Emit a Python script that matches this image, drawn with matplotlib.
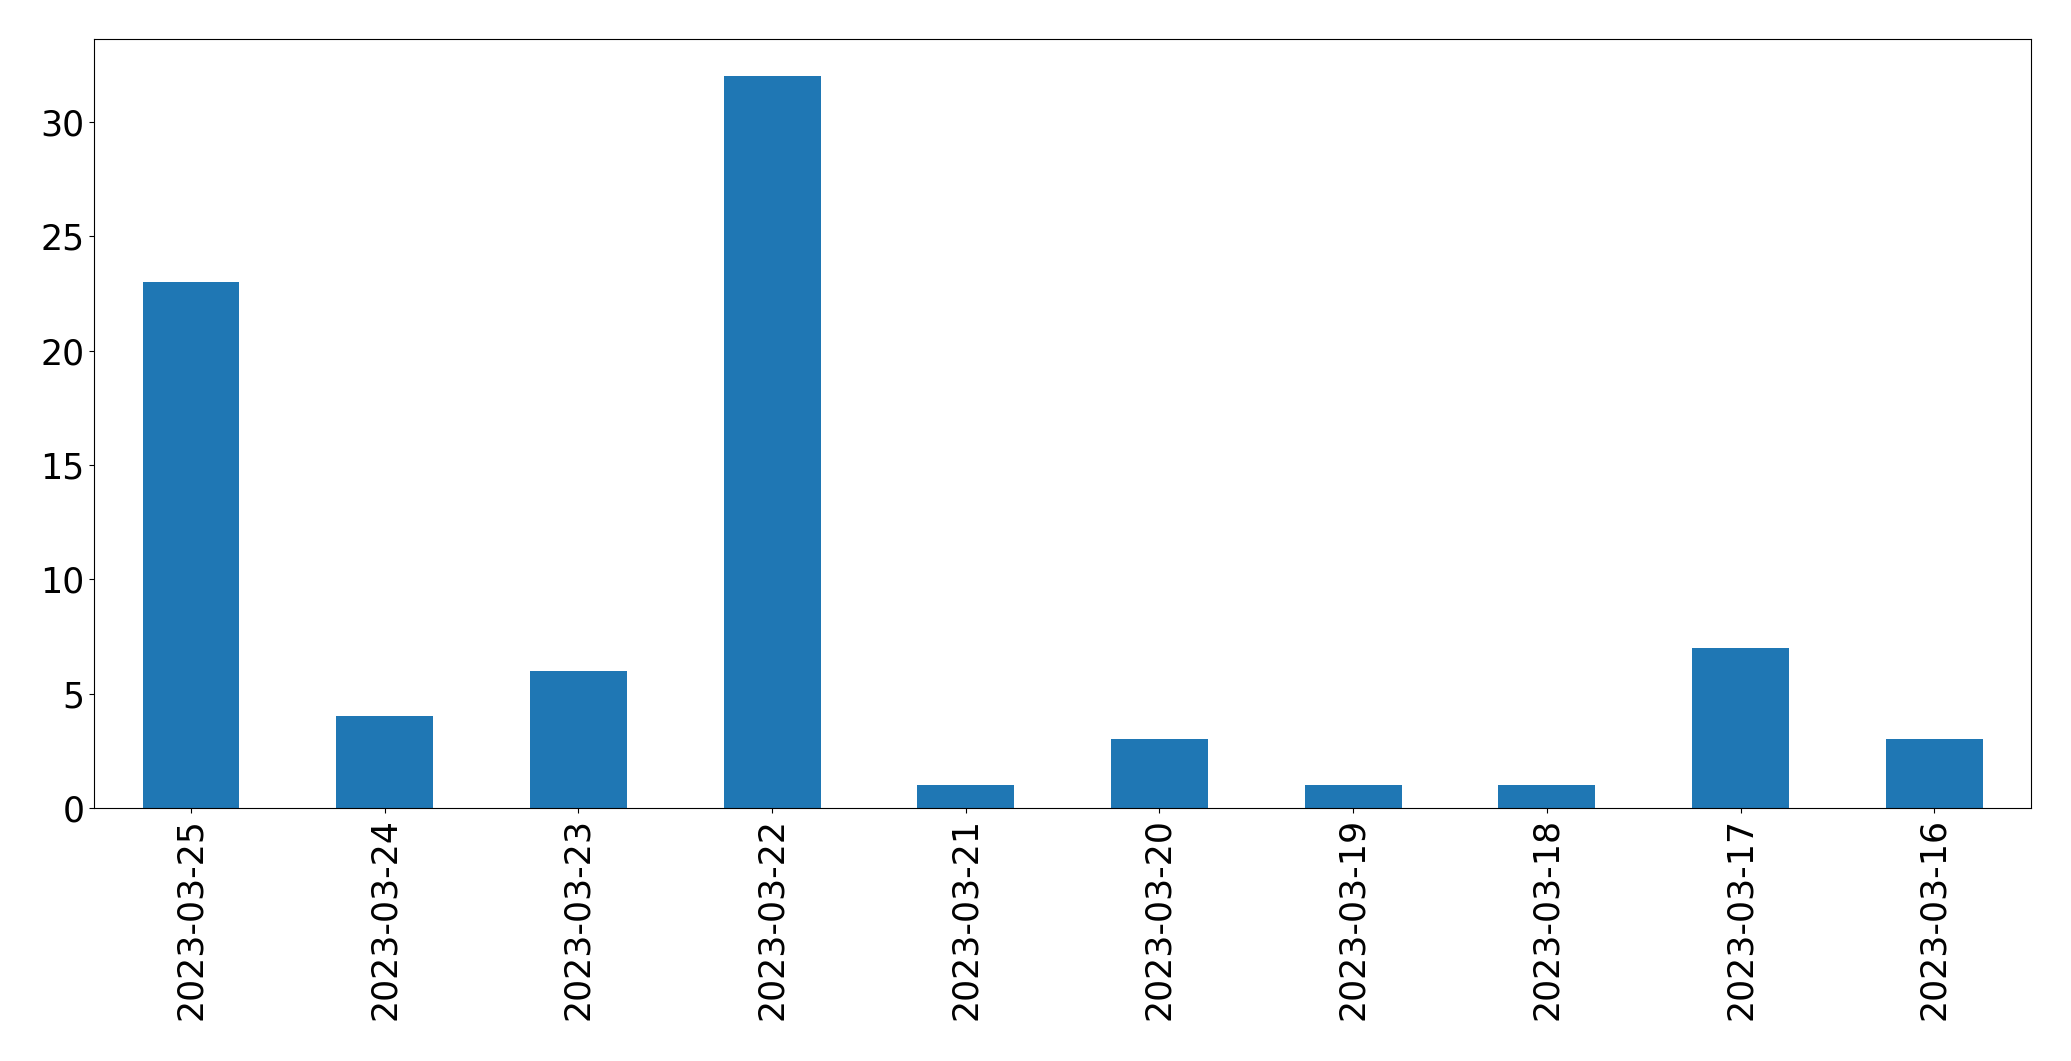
import matplotlib
matplotlib.use("Agg")
import matplotlib.pyplot as plt
import pandas as pd

dates = ["2023-03-25", "2023-03-24", "2023-03-23", "2023-03-22", "2023-03-21",
         "2023-03-20", "2023-03-19", "2023-03-18", "2023-03-17", "2023-03-16"]
counts = [23, 4, 6, 32, 1, 3, 1, 1, 7, 3]

s = pd.Series(counts, index=dates)

fig, ax = plt.subplots(figsize=(20.71, 10.61), dpi=100)
s.plot(kind="bar", ax=ax, color="#1f77b4", fontsize=25)
fig.subplots_adjust(left=0.0455, right=0.9807, top=0.9628, bottom=0.2385)
fig.savefig("out.png", dpi=100)
